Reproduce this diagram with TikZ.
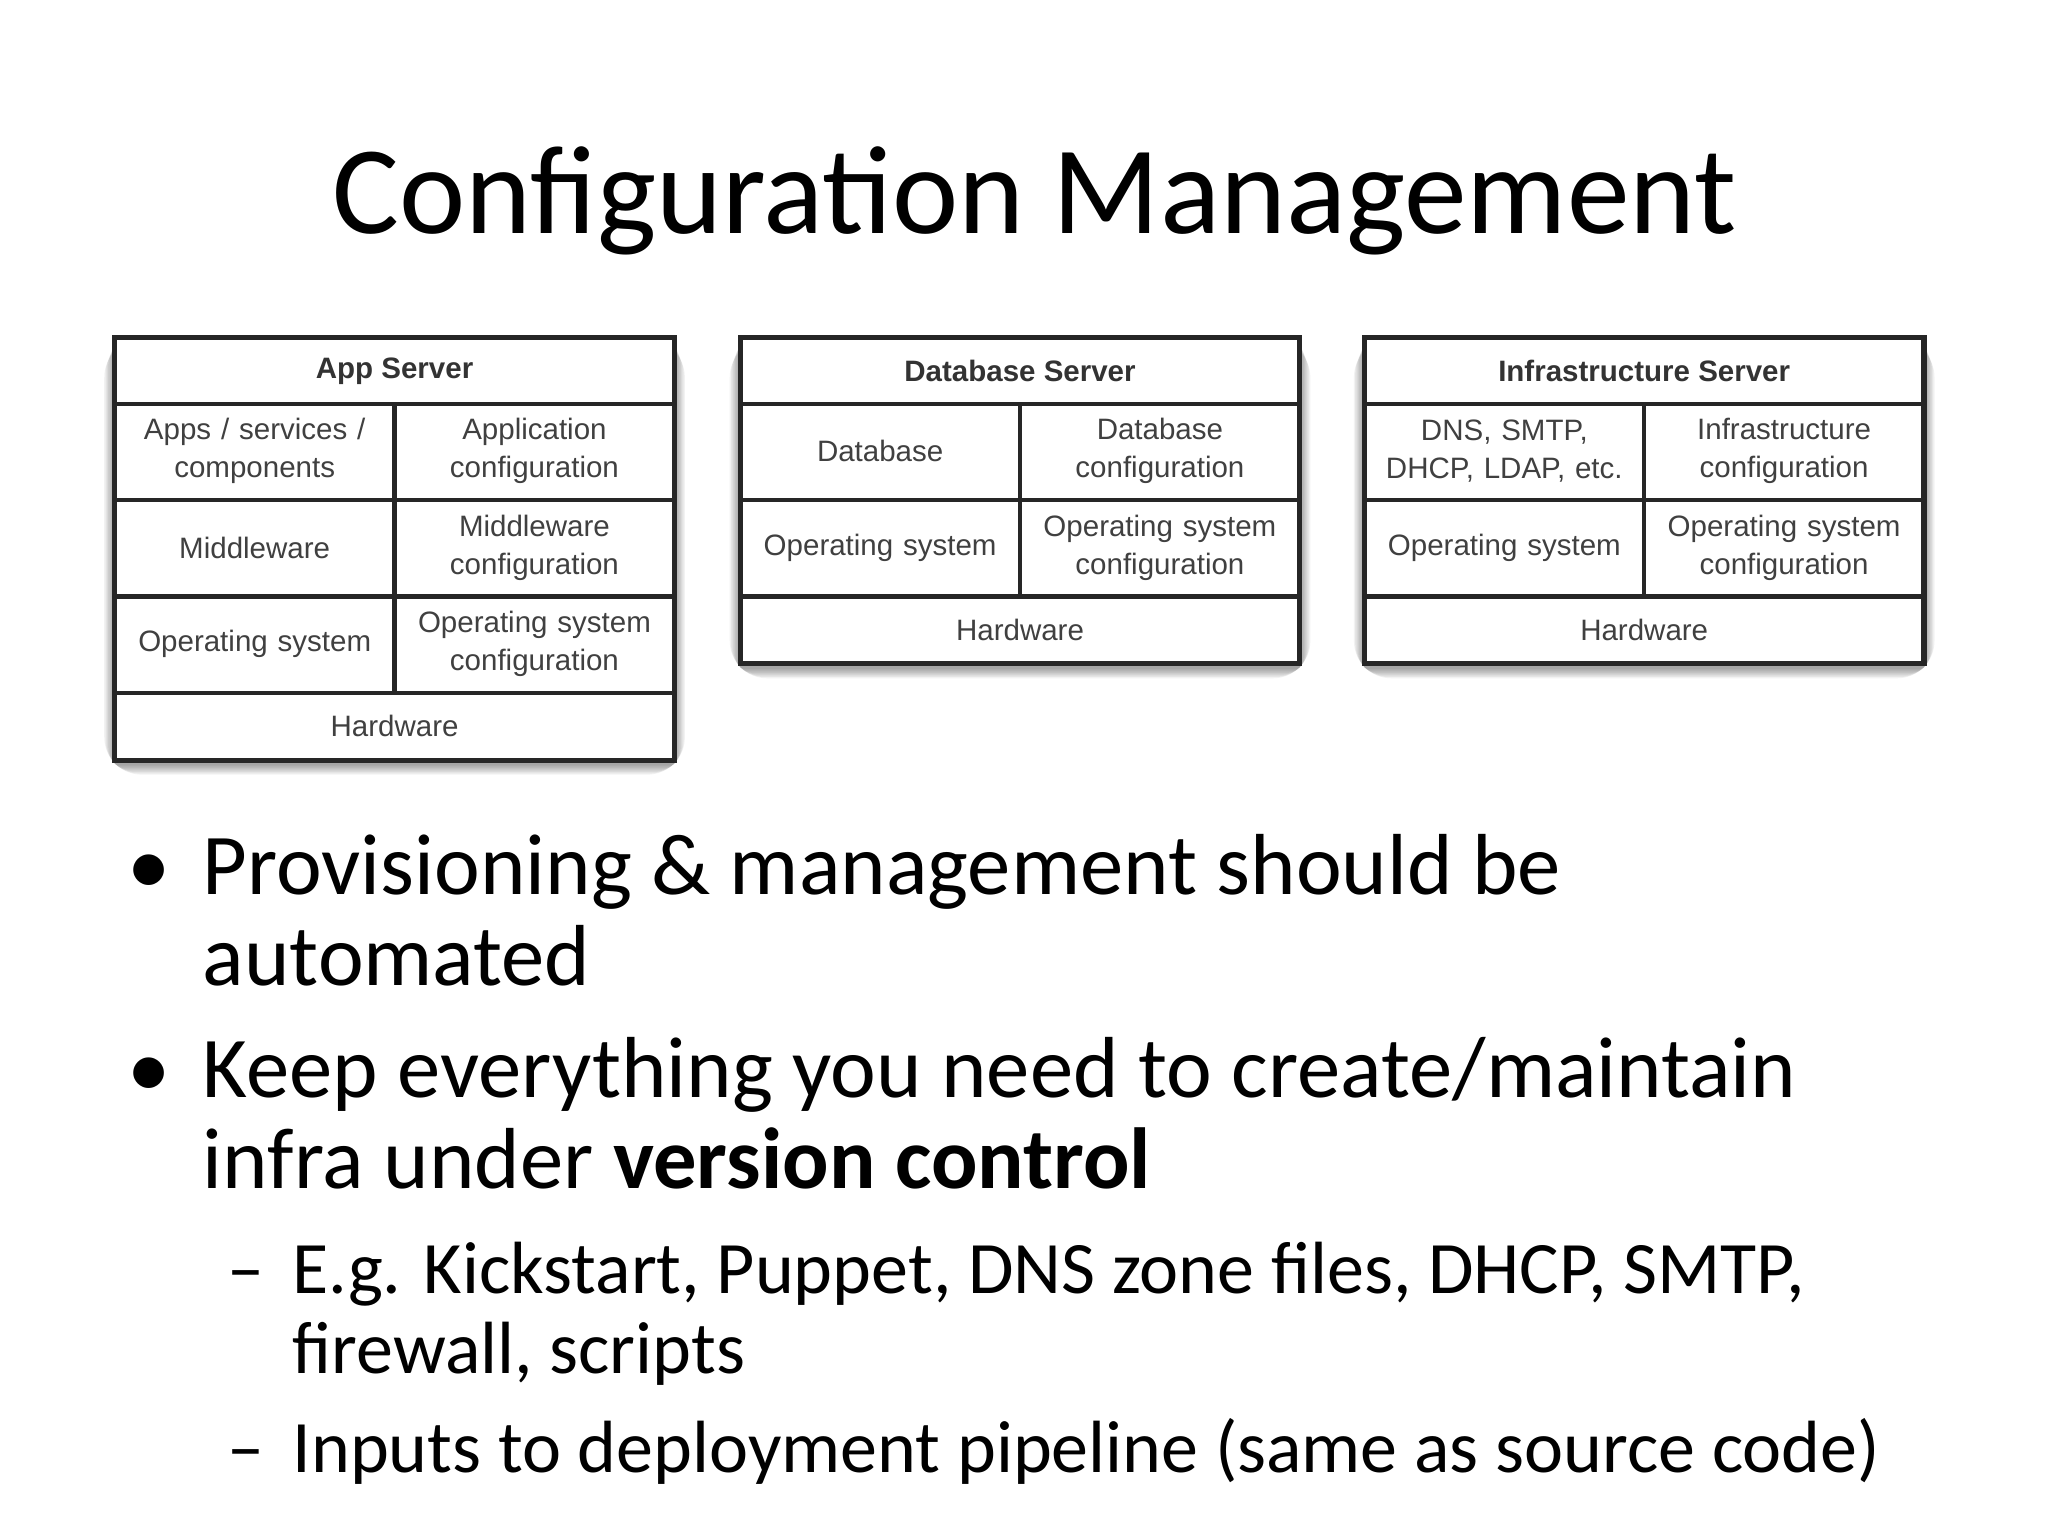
\documentclass[tikz,border=0pt]{standalone}
\usepackage{fontspec}
\setmainfont{Carlito}
\newfontfamily\boxfont{Liberation Sans}
\begin{document}
\begin{tikzpicture}[x=0.0099cm,y=-0.0099cm,
  cell/.style={inner sep=0pt,align=center,font=\boxfont\fontsize{6.3}{8.1}\selectfont,text=black!75,text width=2.0cm},
  hdr/.style={font=\boxfont\bfseries\fontsize{6.3}{8}\selectfont,text=black!80},
  grid/.style={line width=0.9pt,black!85},
  frame/.style={draw=black!85,line width=1.1pt,fill=white},
  bul/.style={anchor=base west,inner sep=0pt,font=\fontsize{18.5}{23}\selectfont},
  sub/.style={anchor=base west,inner sep=0pt,font=\fontsize{15.8}{19}\selectfont}]
\useasboundingbox (0,0) rectangle (1552,1164);
\fill[white] (0,0) rectangle (1552,1164);
\node (title) at (784,152) {\fontsize{26.8}{32}\selectfont Configuration Management};
% shadows
\foreach \xa/\ya/\xb/\yb in {87/256/511/576, 561/256/985/503, 1034/256/1458/503}{
  \foreach \k in {1,...,8}{
    \fill[black,opacity=0.05,rounded corners=\k pt] (\xa-\k,\ya+4-\k*0.3) rectangle (\xb+\k,\yb+3+\k);
  }
}
% App server
\draw[frame] (87,256) rectangle (511,576);
\draw[grid] (87,306)--(511,306) (87,379)--(511,379) (87,452)--(511,452) (87,525)--(511,525) (299,306)--(299,525);
\node[hdr] (a0) at (299,281) {App Server};
\node[cell] (a1) at (193,342) {Apps / services /\\components};
\node[cell] (a2) at (405,342) {Application\\configuration};
\node[cell] (a3) at (193,415) {Middleware};
\node[cell] (a4) at (405,415) {Middleware\\configuration};
\node[cell] (a5) at (193,488) {Operating system};
\node[cell] (a6) at (405,488) {Operating system\\configuration};
\node[cell] (a7) at (299,550) {Hardware};
% DB server
\draw[frame] (561,256) rectangle (985,503);
\draw[grid] (561,306)--(985,306) (561,379)--(985,379) (561,452)--(985,452) (773,306)--(773,452);
\node[hdr] (d0) at (773,281) {Database Server};
\node[cell] (d1) at (667,342) {Database};
\node[cell] (d2) at (879,342) {Database\\configuration};
\node[cell] (d3) at (667,415) {Operating system};
\node[cell] (d4) at (879,415) {Operating system\\configuration};
\node[cell] (d5) at (773,477) {Hardware};
% Infra server
\draw[frame] (1034,256) rectangle (1458,503);
\draw[grid] (1034,306)--(1458,306) (1034,379)--(1458,379) (1034,452)--(1458,452) (1246,306)--(1246,452);
\node[hdr] (i0) at (1246,281) {Infrastructure Server};
\node[cell] (i1) at (1140,342) {DNS, SMTP,\\DHCP, LDAP, etc.};
\node[cell] (i2) at (1352,342) {Infrastructure\\configuration};
\node[cell] (i3) at (1140,415) {Operating system};
\node[cell] (i4) at (1352,415) {Operating system\\configuration};
\node[cell] (i5) at (1246,477) {Hardware};
% bullets
\node[bul] (b1d) at (96,678) {•};
\node[bul] (b1) at (153,678) {Provisioning \& management should be};
\node[bul] (b1b) at (153,747) {automated};
\node[bul] (b2d) at (96,832) {•};
\node[bul] (b2) at (153,832) {Keep everything you need to create/maintain};
\node[bul] (b2b) at (153,901) {infra under \textbf{version control}};
\node[sub] (s1d) at (172,980) {–};
\node[sub] (s1) at (221,980) {E.g. Kickstart, Puppet, DNS zone files, DHCP, SMTP,};
\node[sub] (s1b) at (221,1041) {firewall, scripts};
\node[sub] (s2d) at (172,1116) {–};
\node[sub] (s2) at (221,1116) {Inputs to deployment pipeline (same as source code)};
\end{tikzpicture}
\end{document}
